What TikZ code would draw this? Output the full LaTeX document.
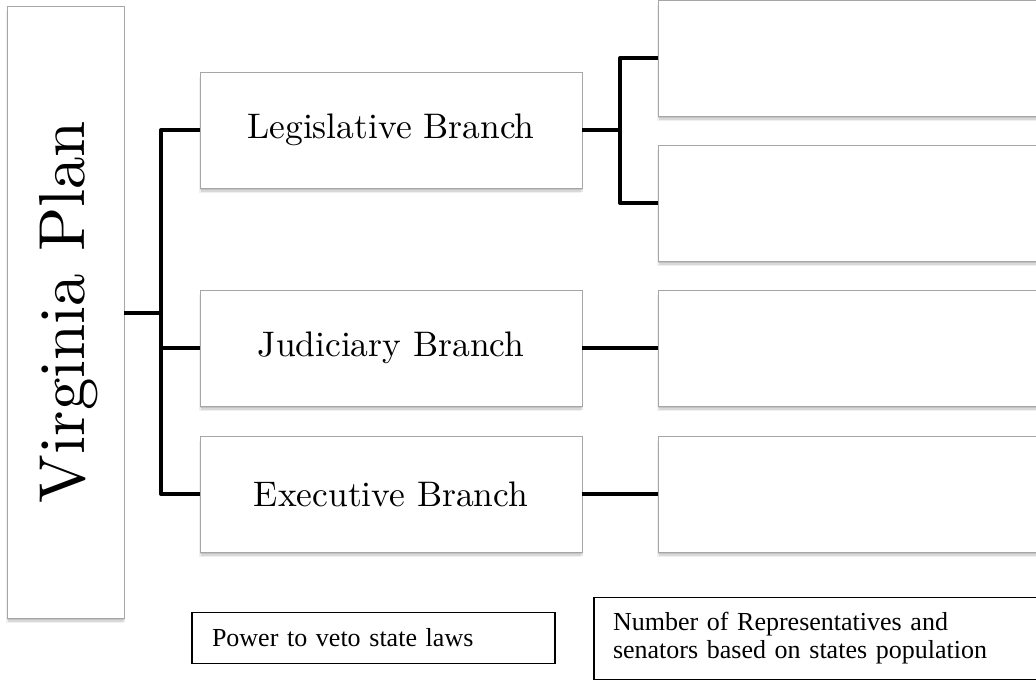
\documentclass[tikz,border=0pt]{standalone}
\usepackage{fontspec}
\newfontfamily\timesfont{Liberation Serif}
\newfontfamily\lmten{lmroman10-regular.otf}
\usetikzlibrary{shadows}
\begin{document}
\begin{tikzpicture}[x=1pt,y=-1pt,
  shadowbox/.style={draw=gray!70, line width=0.9pt, fill=white, inner sep=0pt,
    general shadow={fill=black, opacity=0.10, shadow xshift=0pt, shadow yshift=-1.5pt},
    general shadow={fill=black, opacity=0.10, shadow xshift=0.5pt, shadow yshift=-3.5pt},
    general shadow={fill=black, opacity=0.06, shadow xshift=-1pt, shadow yshift=-5pt}},
  branchbox/.style={shadowbox, minimum width=382pt, minimum height=116pt,
    font=\lmten\fontsize{35.5}{40}\selectfont},
  emptybox/.style={shadowbox, minimum width=422pt, minimum height=116pt},
  notebox/.style={draw=black, line width=1.3pt, fill=white, inner ysep=0pt,
    align=left, font=\timesfont\fontsize{26}{28}\selectfont},
  link/.style={line width=4pt, line join=round}]
\useasboundingbox (0,0) rectangle (1036,681);
\clip (0,0) rectangle (1036,681);
% main box
\node[shadowbox, minimum width=117pt, minimum height=612pt] (vp) at (65.5,312) {};
\node[rotate=90, font=\lmten\fontsize{65}{70}\selectfont] (vpt) at ([xshift=3pt]vp.center) {Virginia Plan};
% branches
\node[branchbox] (leg) at (391,130) {Legislative Branch};
\node[branchbox] (jud) at (391,348) {Judiciary Branch};
\node[branchbox] (exe) at (391,494) {Executive Branch};
% right boxes
\node[emptybox] (r1) at (869,58) {};
\node[emptybox] (r2) at (869,203) {};
\node[emptybox] (r3) at (869,348) {};
\node[emptybox] (r4) at (869,494) {};
% connectors
\coordinate (bj) at (161,313);
\coordinate (lj) at (620,130);
\draw[link] (vp.east |- bj) -- (bj);
\draw[link] (leg.west) -| (bj) |- (exe.west);
\draw[link] (bj) |- (jud.west);
\draw[link] (leg.east) -- (lj);
\draw[link] (r1.west) -| (lj) |- (r2.west);
\draw[link] (jud.east) -- (r3.west);
\draw[link] (exe.east) -- (r4.west);
% notes
\node[notebox, minimum width=363pt, minimum height=51pt, inner xsep=20pt,
  text width=323pt] (n1) at (373.5,638) {Power to veto state laws};
\node[notebox, minimum width=466pt, minimum height=82pt, inner xsep=19pt,
  text width=428pt] (n2) at (827,638.5) {Number of Representatives and\\senators based on states population};
\end{tikzpicture}
\end{document}
